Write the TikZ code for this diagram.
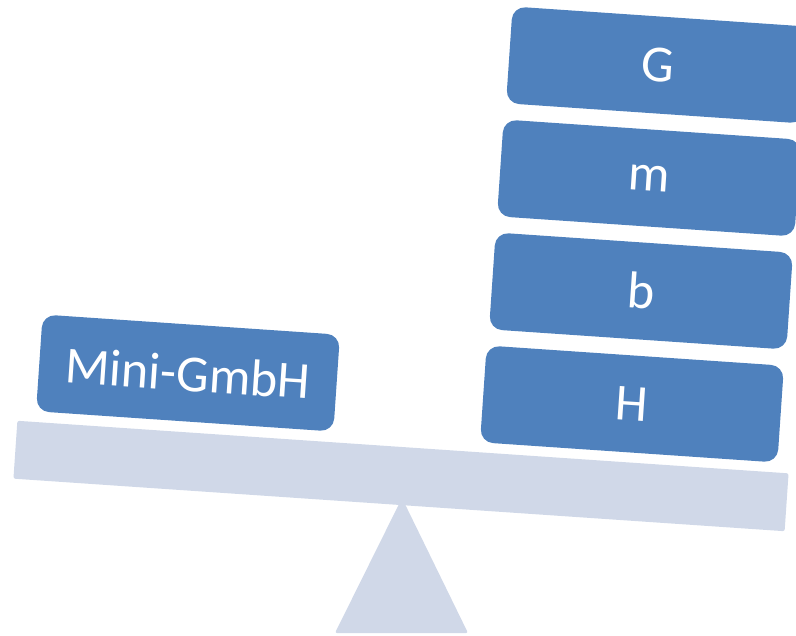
\documentclass[tikz,border=0pt]{standalone}
\usepackage{fontspec}
\setmainfont{Carlito}
\definecolor{boxblue}{HTML}{4F81BD}
\definecolor{beamgray}{HTML}{D0D8E8}
\tikzset{
  block/.style={fill=boxblue, draw=none, rounded corners=13pt, minimum width=298pt, minimum height=97pt,
    inner sep=0pt, rotate=-3.9, text=white, font=\fontsize{52}{60}\selectfont},
  beam/.style={fill=beamgray, draw=none, rounded corners=2pt, minimum width=773pt, minimum height=58pt,
    inner sep=0pt, rotate=-3.9}
}
\begin{document}
\begin{tikzpicture}[x=1pt,y=-1pt]
\useasboundingbox (0,0) rectangle (796,636);
% fulcrum
\fill[beamgray, rounded corners=2pt] (402,498) -- (468,633) -- (335,633) -- cycle;
% beam
\node[beam] (beam) at (401,476) {};
% left block
\node[block] (mini) at (188,373) {Mini-GmbH};
% right stack
\node[block] (H) at (632,404) {H};
\node[block] (b) at (641,291) {b};
\node[block] (m) at (649,178) {m};
\node[block] (G) at (658,65) {G};
\end{tikzpicture}
\end{document}
